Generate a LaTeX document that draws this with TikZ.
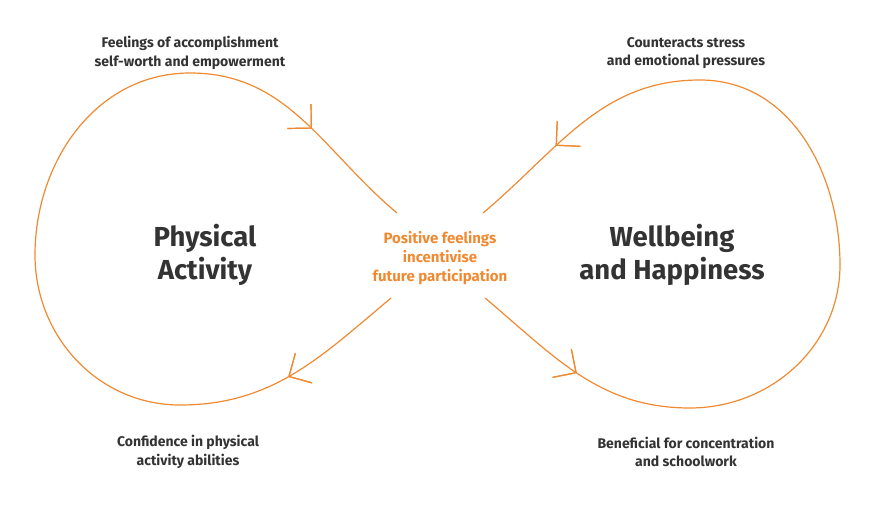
\documentclass[tikz,border=0pt]{standalone}
\usepackage{fontspec}
\setmainfont{Fira Sans}
\usetikzlibrary{arrows.meta, decorations.markings}
\definecolor{loopcol}{HTML}{F08A32}
\definecolor{textcol}{HTML}{333333}
\tikzset{
x=1pt, y=1pt,
loopline/.style={draw=loopcol, line width=1.2pt}, % orange loop
barb/.style={decoration={markings, mark=at position #1 with {\arrow{Straight Barb[length=17pt, width=34pt, line width=1.2pt]}}}, postaction={decorate}},
note/.style={text=textcol, font=\fontsize{14}{18.5}\selectfont\bfseries, align=center},
title/.style={text=textcol, font=\fontsize{27.5}{33}\selectfont\bfseries, align=center},
}
\begin{document}
\begin{tikzpicture}
    \useasboundingbox (0,0) rectangle (892,523);
    % left loop
    \coordinate (ls) at (391,225);
    \coordinate (lb) at (180,118);
    \coordinate (ll) at (35,268);
    \coordinate (lt) at (190,450);
    \coordinate (le) at (397,310);
    % right loop
    \coordinate (rs) at (485,225);
    \coordinate (rb) at (690,115);
    \coordinate (rr) at (840,258);
    \coordinate (rt) at (700,443);
    \coordinate (re) at (483,310);
    \draw[loopline, barb=0.13, barb=0.88]
    (ls) to[out=220, in=0] (lb) to[out=180, in=270] (ll) to[out=90, in=180] (lt) to[out=0, in=140] (le);
    \draw[loopline, barb=0.12, barb=0.9]
    (rs) to[out=-40, in=180] (rb) to[out=0, in=270] (rr) to[out=90, in=0] (rt) to[out=180, in=40] (re);
    \node[title] (pa) at (205,268) {Physical\\Activity};
    \node[title] (wh) at (672,268) {Wellbeing\\and Happiness};
    \node[note, text=loopcol, font=\fontsize{15}{19}\selectfont\bfseries] (mid) at (440,265) {Positive feelings\\incentivise\\future participation};
    \node[note] (tl) at (190,470) {Feelings of accomplishment\\self-worth and empowerment};
    \node[note] (tr) at (686,470) {Counteracts stress\\and emotional pressures};
    \node[note] (bl) at (188,71) {Confidence in physical\\activity abilities};
    \node[note] (br) at (686,71) {Beneficial for concentration\\and schoolwork};
\end{tikzpicture}
\end{document}
